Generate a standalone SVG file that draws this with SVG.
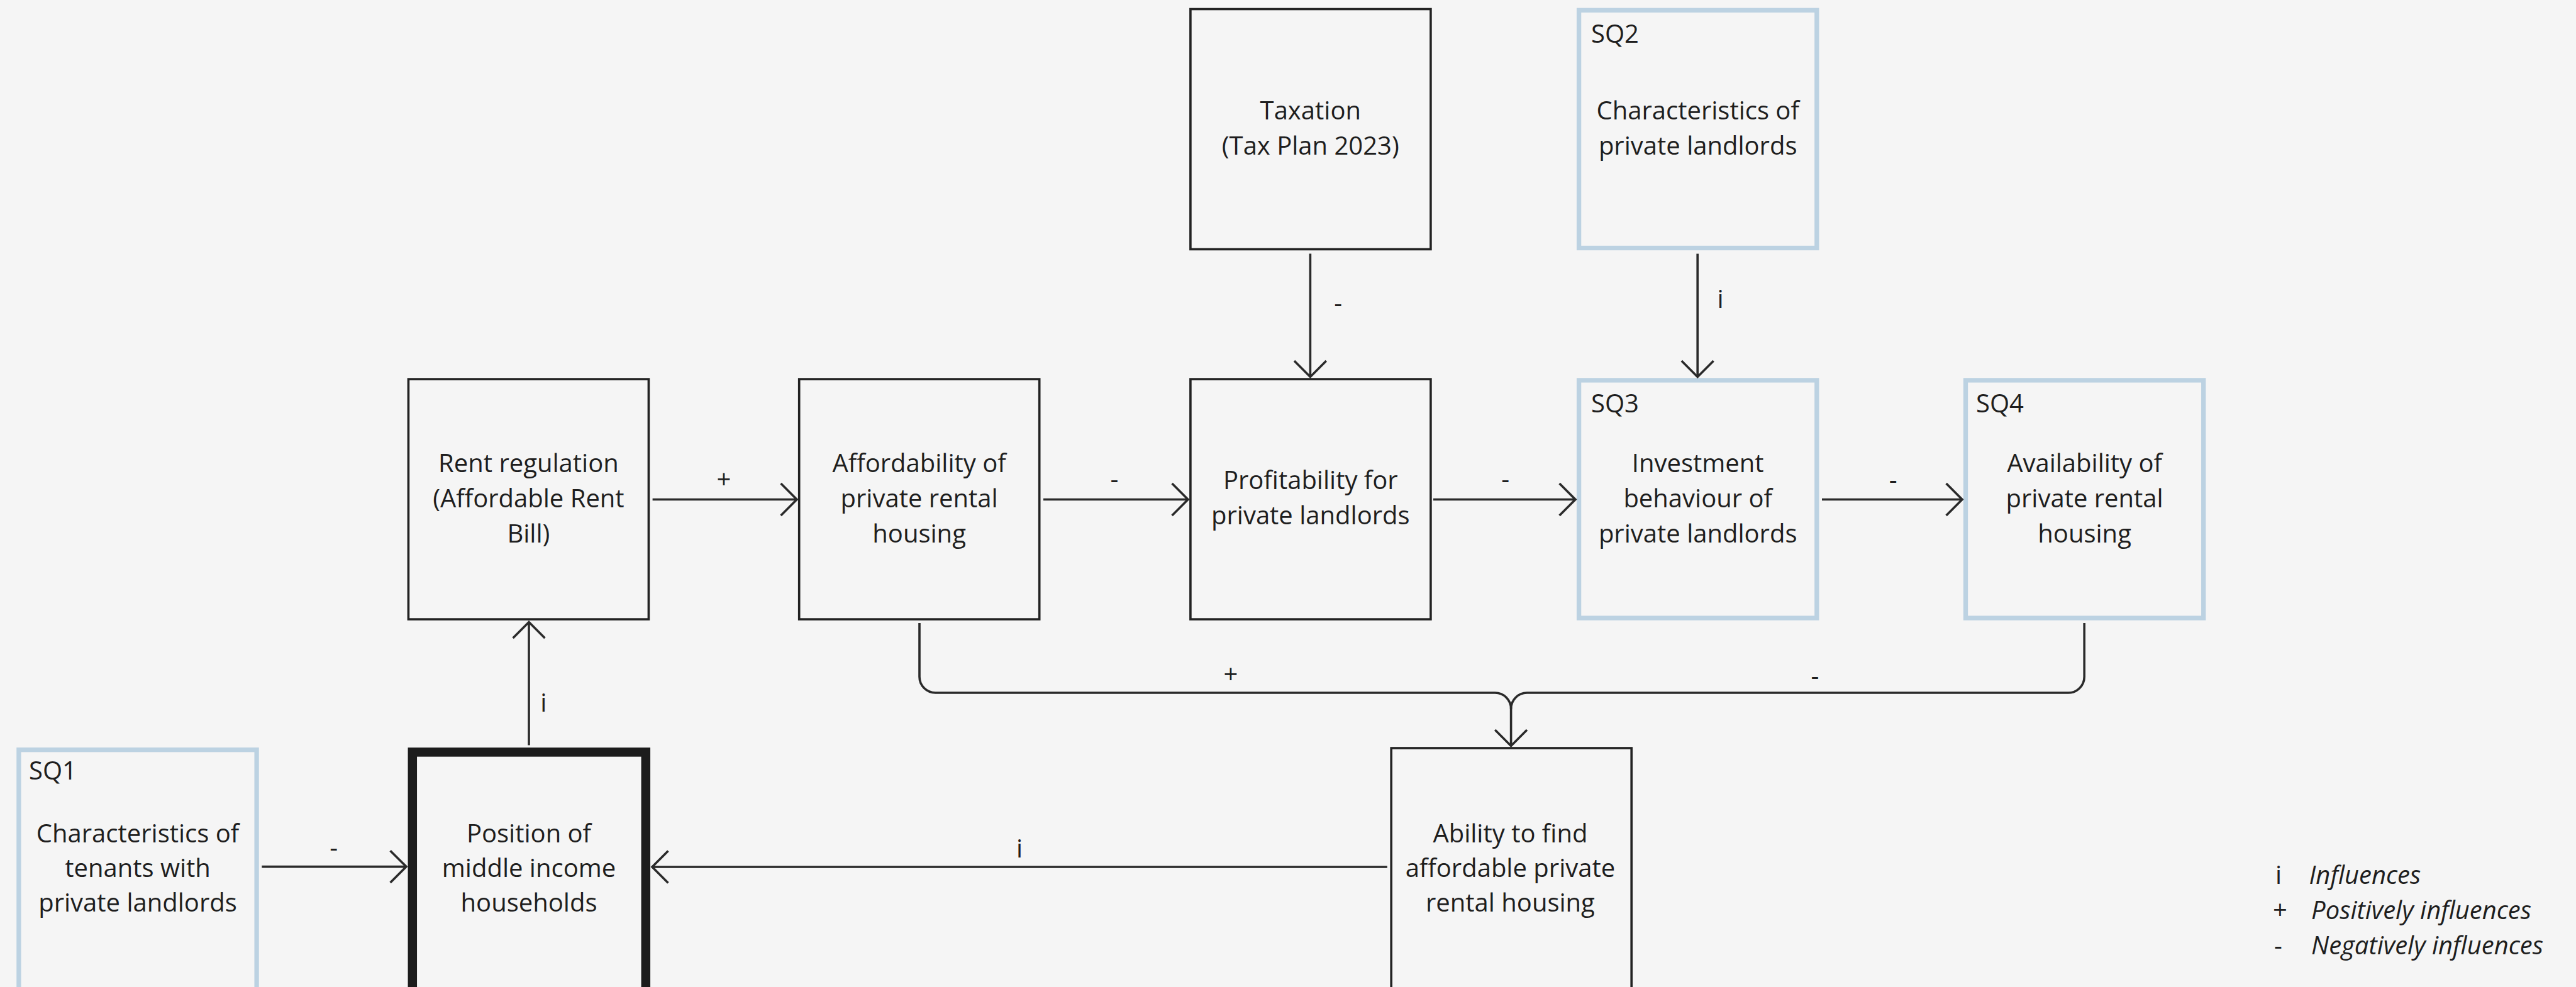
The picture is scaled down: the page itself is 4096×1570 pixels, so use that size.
<svg xmlns="http://www.w3.org/2000/svg" width="4096" height="1570" viewBox="0 0 4096 1570">
<style>
.bg{fill:#f5f5f5}
.box{fill:#f5f5f5;stroke:#222;stroke-width:3.6}
.sq{fill:#f5f5f5;stroke:#bcd2e2;stroke-width:7.3}
.main{fill:#f5f5f5;stroke:#1c1c1c;stroke-width:14.5}
text{font-family:"Open Sans","Noto Sans","Liberation Sans",sans-serif;font-size:40px;fill:#1e1e1e}
.c{text-anchor:middle}
.it{font-style:italic}
.con{fill:none;stroke:#2a2a2a;stroke-width:3.6}
</style>
<defs>
<marker id="arr" markerUnits="userSpaceOnUse" markerWidth="60" markerHeight="60" refX="0" refY="0" orient="auto" overflow="visible">
<path d="M-25.4,-25.4 L0,0 L-25.4,25.4" fill="none" stroke="#2a2a2a" stroke-width="3.6"/>
</marker>
</defs>
<rect class="bg" x="0" y="0" width="4096" height="1570"/>

<g id="taxation">
<rect class="box" x="1892.9" y="14.5" width="382" height="382"/>
<text class="c" x="2083.8" y="190">Taxation</text>
<text class="c" x="2083.8" y="246">(Tax Plan 2023)</text>
</g>
<g id="sq2">
<rect class="sq" x="2510.6" y="16.3" width="378.2" height="378.2"/>
<text x="2530" y="68">SQ2</text>
<text class="c" x="2699.7" y="190">Characteristics of</text>
<text class="c" x="2699.7" y="246">private landlords</text>
</g>
<g id="rent">
<rect class="box" x="649.4" y="603.1" width="382" height="382"/>
<text class="c" x="840.4" y="751">Rent regulation</text>
<text class="c" x="840.4" y="807">(Affordable Rent</text>
<text class="c" x="840.4" y="863">Bill)</text>
</g>
<g id="affordability">
<rect class="box" x="1270.7" y="603.1" width="382" height="382"/>
<text class="c" x="1461.6" y="751">Affordability of</text>
<text class="c" x="1461.6" y="807">private rental</text>
<text class="c" x="1461.6" y="863">housing</text>
</g>
<g id="profitability">
<rect class="box" x="1892.9" y="603.1" width="382" height="382"/>
<text class="c" x="2083.8" y="778">Profitability for</text>
<text class="c" x="2083.8" y="834">private landlords</text>
</g>
<g id="sq3">
<rect class="sq" x="2510.6" y="604.9" width="378.2" height="378.2"/>
<text x="2530" y="656">SQ3</text>
<text class="c" x="2699.7" y="751">Investment</text>
<text class="c" x="2699.7" y="807">behaviour of</text>
<text class="c" x="2699.7" y="863">private landlords</text>
</g>
<g id="sq4">
<rect class="sq" x="3125.5" y="604.9" width="378.2" height="378.2"/>
<text x="3142" y="656">SQ4</text>
<text class="c" x="3314.6" y="751">Availability of</text>
<text class="c" x="3314.6" y="807">private rental</text>
<text class="c" x="3314.6" y="863">housing</text>
</g>
<g id="sq1">
<rect class="sq" x="29.9" y="1192.7" width="378.2" height="450"/>
<text x="46" y="1240">SQ1</text>
<text class="c" x="219" y="1340">Characteristics of</text>
<text class="c" x="219" y="1395">tenants with</text>
<text class="c" x="219" y="1450">private landlords</text>
</g>
<g id="position">
<rect class="main" x="655.8" y="1196.4" width="371" height="450"/>
<text class="c" x="841" y="1340">Position of</text>
<text class="c" x="841" y="1395">middle income</text>
<text class="c" x="841" y="1450">households</text>
</g>
<g id="ability">
<rect class="box" x="2212.2" y="1190" width="382" height="450"/>
<text class="c" x="2401.4" y="1340">Ability to find</text>
<text class="c" x="2401.4" y="1395">affordable private</text>
<text class="c" x="2401.4" y="1450">rental housing</text>
</g>

<g id="connectors">
<path class="con" d="M1037.6,794.5 H1267" marker-end="url(#arr)"/>
<path class="con" d="M1659,794.5 H1889" marker-end="url(#arr)"/>
<path class="con" d="M2279,794.5 H2505" marker-end="url(#arr)"/>
<path class="con" d="M2897,794.5 H3120" marker-end="url(#arr)"/>
<path class="con" d="M2083.4,403.6 V599.5" marker-end="url(#arr)"/>
<path class="con" d="M2699.2,403.6 V599.5" marker-end="url(#arr)"/>
<path class="con" d="M841,1185.4 V989.5" marker-end="url(#arr)"/>
<path class="con" d="M416.3,1378.6 H646" marker-end="url(#arr)"/>
<path class="con" d="M2205.8,1379 H1037" marker-end="url(#arr)"/>
<path class="con" d="M1462,991 V1076.6 A25.4,25.4 0 0 0 1487.4,1102 H2377.2 A25.4,25.4 0 0 1 2402.6,1127.4 V1186.4" marker-end="url(#arr)"/>
<path class="con" d="M3314.2,991 V1076.6 A25.4,25.4 0 0 1 3288.8,1102 H2428 A25.4,25.4 0 0 0 2402.6,1127.4"/>
<text class="c" x="1151" y="777">+</text>
<text class="c" x="1772" y="776">-</text>
<text class="c" x="2393.6" y="776">-</text>
<text class="c" x="3010.3" y="777">-</text>
<text class="c" x="2127.8" y="496">-</text>
<text class="c" x="2735.5" y="490">i</text>
<text class="c" x="864.4" y="1132">i</text>
<text class="c" x="1621" y="1364">i</text>
<text class="c" x="530.6" y="1362">-</text>
<text class="c" x="1957" y="1087">+</text>
<text class="c" x="2886" y="1089">-</text>
</g>

<g id="legend">
<text x="3618" y="1406">i</text>
<text class="it" x="3671.5" y="1406">Influences</text>
<text x="3614" y="1462">+</text>
<text class="it" x="3675" y="1462">Positively influences</text>
<text x="3616" y="1518">-</text>
<text class="it" x="3675" y="1518">Negatively influences</text>
</g>
</svg>
